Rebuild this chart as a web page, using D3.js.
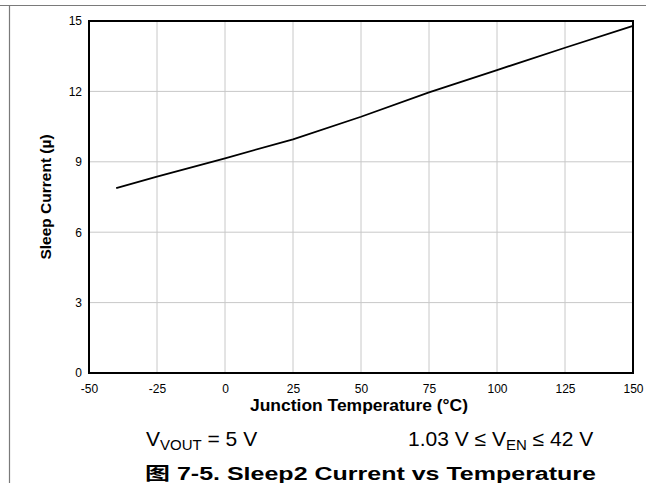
<!DOCTYPE html>
<html><head><meta charset="utf-8">
<script src="https://cdn.jsdelivr.net/npm/d3@7"></script>
<style>
html,body{margin:0;padding:0;background:#fff;}
svg{display:block;font-family:"Liberation Sans",Arial,"Noto Sans CJK SC",sans-serif;}
</style></head><body>
<script>
const temps = [-40, -25, 0, 25, 50, 75, 100, 125, 150];
const sleepCurrent = [7.88, 8.37, 9.15, 9.96, 10.92, 11.96, 12.91, 13.86, 14.79];
const xTicks = [-50, -25, 0, 25, 50, 75, 100, 125, 150];
const yTicks = [0, 3, 6, 9, 12, 15];

const W = 646, H = 483;
const m = {left: 89, right: 633, top: 21, bottom: 373};
const svg = d3.select("body").append("svg").attr("width", W).attr("height", H);

// frame
svg.append("line").attr("x1", 0).attr("x2", W).attr("y1", 5.5).attr("y2", 5.5).attr("stroke", "#7a7a7a").attr("stroke-width", 1.2);
svg.append("line").attr("x1", 9.5).attr("x2", 9.5).attr("y1", 5).attr("y2", H).attr("stroke", "#7a7a7a").attr("stroke-width", 1.2);

const x = d3.scaleLinear().domain([-50, 150]).range([m.left, m.right]);
const y = d3.scaleLinear().domain([0, 15]).range([m.bottom, m.top]);

// grid
svg.append("g").selectAll("line").data(xTicks.slice(1, -1)).join("line")
  .attr("x1", d => x(d)).attr("x2", d => x(d)).attr("y1", m.top).attr("y2", m.bottom)
  .attr("stroke", "#c8c8c8").attr("stroke-width", 1);
svg.append("g").selectAll("line").data(yTicks.slice(1, -1)).join("line")
  .attr("x1", m.left).attr("x2", m.right).attr("y1", d => y(d)).attr("y2", d => y(d))
  .attr("stroke", "#c8c8c8").attr("stroke-width", 1);

// axes labels
const xAxis = d3.axisBottom(x).tickValues(xTicks).tickFormat(d => String(d)).tickSize(0).tickPadding(11);
const gx = svg.append("g").attr("transform", `translate(0,${m.bottom})`).call(xAxis);
gx.select(".domain").remove();
gx.selectAll("text").attr("font-size", 12).attr("fill", "#000").attr("font-family", "Liberation Sans, Arial, sans-serif");

const yAxis = d3.axisLeft(y).tickValues(yTicks).tickFormat(d => String(d)).tickSize(0).tickPadding(7);
const gy = svg.append("g").attr("transform", `translate(${m.left},0)`).call(yAxis);
gy.select(".domain").remove();
gy.selectAll("text").attr("font-size", 12).attr("fill", "#000").attr("font-family", "Liberation Sans, Arial, sans-serif");

// data line
svg.append("path").datum(temps.map((t, i) => [t, sleepCurrent[i]]))
  .attr("d", d3.line().x(d => x(d[0])).y(d => y(d[1])))
  .attr("fill", "none").attr("stroke", "#000").attr("stroke-width", 1.8);

// plot border
svg.append("rect").attr("x", m.left).attr("y", m.top).attr("width", m.right - m.left).attr("height", m.bottom - m.top)
  .attr("fill", "none").attr("stroke", "#000").attr("stroke-width", 2);

// axis titles
svg.append("text").attr("x", 250).attr("y", 411)
  .attr("font-size", 16).attr("font-weight", "bold")
  .attr("textLength", 218).attr("lengthAdjust", "spacingAndGlyphs")
  .text("Junction Temperature (°C)");
svg.append("text").attr("transform", `translate(51,${(m.top + m.bottom) / 2}) rotate(-90)`).attr("text-anchor", "middle")
  .attr("font-size", 15.5).attr("font-weight", "bold").text("Sleep Current (µ)");

// annotations
const a1 = svg.append("text").attr("x", 146).attr("y", 446).attr("font-size", 21);
a1.append("tspan").text("V");
a1.append("tspan").attr("font-size", 15).attr("dy", 4).text("VOUT");
a1.append("tspan").attr("dy", -4).text(" = 5 V");

const a2 = svg.append("text").attr("x", 408).attr("y", 446).attr("font-size", 21);
a2.append("tspan").text("1.03 V ≤ V");
a2.append("tspan").attr("font-size", 15).attr("dy", 4).text("EN");
a2.append("tspan").attr("dy", -4).text(" ≤ 42 V");

// caption
svg.append("text").attr("x", 145).attr("y", 480)
  .attr("font-size", 18).attr("font-weight", "bold")
  .attr("textLength", 451).attr("lengthAdjust", "spacingAndGlyphs")
  .text("图 7-5. Sleep2 Current vs Temperature");
</script>
</body></html>
